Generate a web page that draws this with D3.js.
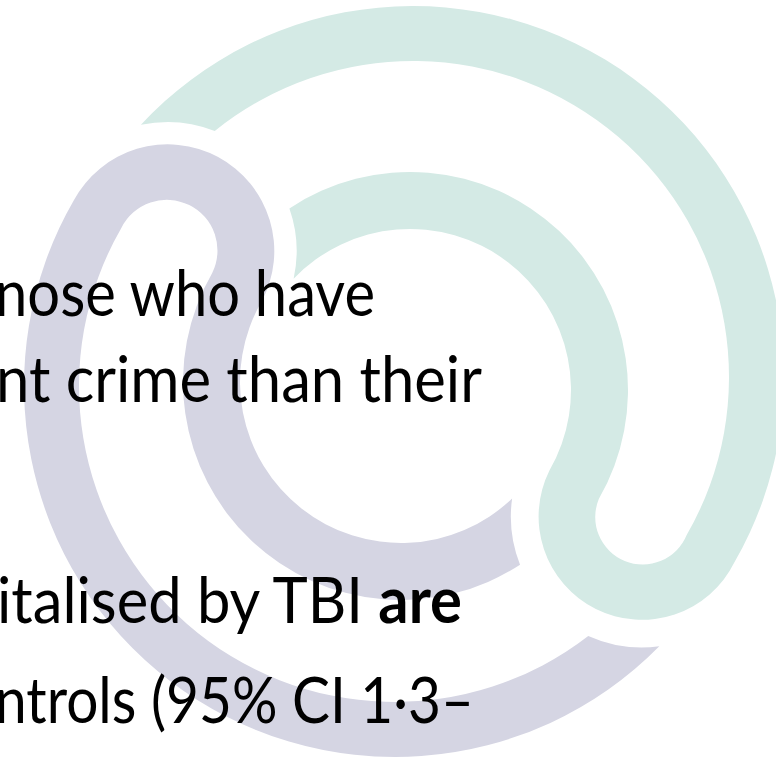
<!DOCTYPE html>
<html>
<head>
<meta charset="utf-8">
<script src="https://cdn.jsdelivr.net/npm/d3@7"></script>
<style>
  html, body { margin: 0; padding: 0; background: #ffffff; }
  svg { display: block; }
</style>
</head>
<body>
<div id="chart"></div>
<script>
// ---- content ----
const lineText = ["nose who have", "nt crime than their", "italised by TBI ", "ntrols (95% CI 1\u00b73\u2013"];
const lineBold = ["", "", "are", ""];

// ---- logo geometry (two interlocking hooked bands) ----
const shapeNames = ["teal", "lavender"];
const shapeColors = ["#d4eae5", "#d5d5e3"];
const bandCentersOuter = [[413, 377], [395, 386]];
const bandCentersInner = [[410, 390], [401, 382]];
const outerRadii = [316, 371];
const innerRadii = [161, 218];
const hookAngles = [30, 210];
const cutRadii = [129, 131];

// ---- layout ----
const W = 776, H = 765;
const baselines = [316, 402, 623, 723];
const textX = [-5, -4, -3, -5];
const textEnd = [375, 482, 462, 474];
const fontSize = 63;

const svg = d3.select("#chart").append("svg")
  .attr("width", W).attr("height", H)
  .attr("viewBox", `0 0 ${W} ${H}`);

svg.append("rect").attr("width", W).attr("height", H).attr("fill", "#ffffff");

const rad = d => d * Math.PI / 180;
const polar = (c, r, a) => [c[0] + r * Math.cos(a), c[1] + r * Math.sin(a)];
const ang = (p, c) => Math.atan2(p[1] - c[1], p[0] - c[0]);
const mid = (a, b) => [(a[0] + b[0]) / 2, (a[1] + b[1]) / 2];
const dist = (a, b) => Math.hypot(a[0] - b[0], a[1] - b[1]);

function intersectAngle(c, r, p, R) {
  const dx = p[0] - c[0], dy = p[1] - c[1], d = Math.hypot(dx, dy);
  const a = (r * r - R * R + d * d) / (2 * d);
  const alpha = Math.acos(Math.max(-1, Math.min(1, a / r)));
  return Math.atan2(dy, dx) + alpha;
}

const shapes = shapeNames.map((name, i) => ({
  name, color: shapeColors[i],
  co: bandCentersOuter[i], ci: bandCentersInner[i],
  ro: outerRadii, ri: innerRadii, phi: rad(hookAngles[i])
}));

function hookCenter(s) {
  const Po = polar(s.co, s.ro[1], s.phi), Pi = polar(s.ci, s.ri[0], s.phi);
  return mid(Po, Pi);
}

function shapePath(s, cut, Rc) {
  const p = d3.path();
  const phi = s.phi;
  const t1o = intersectAngle(s.co, s.ro[1], cut, Rc);
  const t1i = intersectAngle(s.co, s.ro[0], cut, Rc);
  const t2i = intersectAngle(s.ci, s.ri[0], cut, Rc);
  const t2o = intersectAngle(s.ci, s.ri[1], cut, Rc);

  const Po = polar(s.co, s.ro[1], phi), Pi = polar(s.ci, s.ri[0], phi);
  const Mh = mid(Po, Pi), rh = dist(Po, Pi) / 2, ah = ang(Po, Mh);
  const Qo = polar(s.co, s.ro[0], phi), Qi = polar(s.ci, s.ri[1], phi);
  const Mq = mid(Qo, Qi), rq = dist(Qo, Qi) / 2, aq = ang(Qi, Mq);

  p.arc(s.co[0], s.co[1], s.ro[1], t1o, phi, false);
  p.arc(Mh[0], Mh[1], rh, ah, ah + Math.PI, false);
  p.arc(s.ci[0], s.ci[1], s.ri[0], phi, t2i, true);
  const A = polar(s.ci, s.ri[0], t2i), B = polar(s.ci, s.ri[1], t2o);
  p.arc(cut[0], cut[1], Rc, ang(A, cut), ang(B, cut), true);
  p.arc(s.ci[0], s.ci[1], s.ri[1], t2o, phi, false);
  p.arc(Mq[0], Mq[1], rq, aq, aq - Math.PI, true);
  p.arc(s.co[0], s.co[1], s.ro[0], phi, t1i, true);
  const C1 = polar(s.co, s.ro[0], t1i), D1 = polar(s.co, s.ro[1], t1o);
  p.arc(cut[0], cut[1], Rc, ang(C1, cut), ang(D1, cut), true);
  p.closePath();
  return p.toString();
}

const hooks = shapes.map(hookCenter);

svg.append("g").attr("class", "logo")
  .selectAll("path").data(shapes).join("path")
  .attr("d", (s, i) => shapePath(s, hooks[1 - i], cutRadii[i]))
  .attr("fill", s => s.color);

const txt = svg.append("g").attr("class", "text")
  .attr("font-family", "Lato, Carlito, 'Open Sans', sans-serif")
  .attr("font-size", fontSize)
  .attr("fill", "#000000");

lineText.forEach((t, i) => {
  const el = txt.append("text").attr("x", 0).attr("y", 0);
  el.append("tspan").text(t);
  if (lineBold[i]) el.append("tspan").attr("font-weight", "bold").text(lineBold[i]);
  const natural = el.node().getComputedTextLength();
  const k = natural > 0 ? (textEnd[i] - textX[i]) / natural : 1;
  el.attr("transform", `translate(${textX[i]},${baselines[i]}) scale(${k},1)`);
});
</script>
</body>
</html>
